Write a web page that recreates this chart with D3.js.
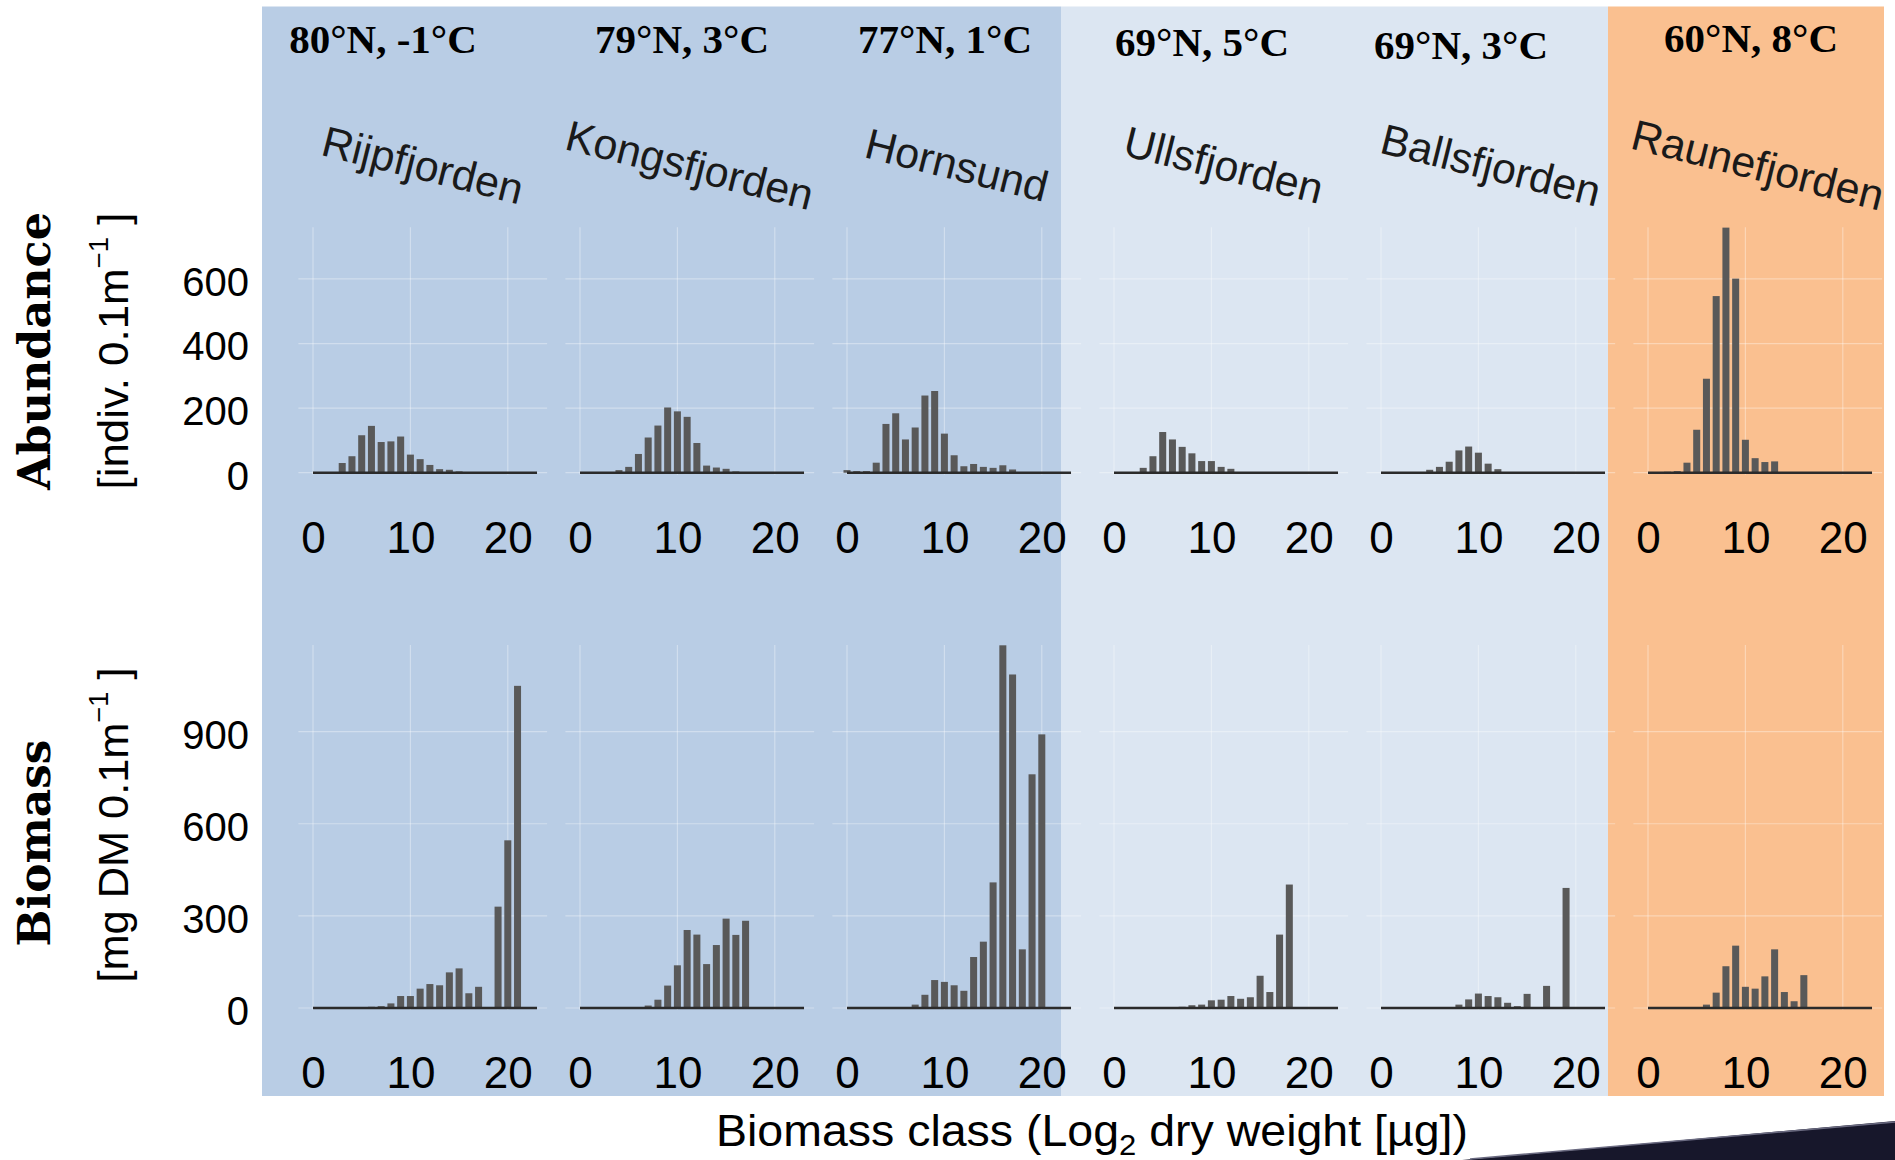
<!DOCTYPE html>
<html>
<head>
<meta charset="utf-8">
<script src="https://cdn.jsdelivr.net/npm/d3@7"></script>
<style>
  body { margin: 0; background: #fff; }
  text { font-family: "Liberation Sans", Arial, sans-serif; }
</style>
</head>
<body>
<svg id="chart" width="1895" height="1160"></svg>
<script>
// ---- data ----
const fjordNames = ["Rijpfjorden", "Kongsfjorden", "Hornsund", "Ullsfjorden", "Ballsfjorden", "Raunefjorden"];
const siteHeaders = ["80°N, -1°C", "79°N, 3°C", "77°N, 1°C", "69°N, 5°C", "69°N, 3°C", "60°N, 8°C"];
const sizeClasses = [0, 1, 2, 3, 4, 5, 6, 7, 8, 9, 10, 11, 12, 13, 14, 15, 16, 17, 18, 19, 20, 21, 22, 23];
const xTicks = [0, 10, 20];
const abundanceTicks = [0, 200, 400, 600];
const biomassTicks = [0, 300, 600, 900];

// abundance [indiv. 0.1m^-1] per size class 0..23
const abundRijp  = [0, 0, 0, 30, 51, 116, 145, 95, 97, 112, 56, 42, 24, 11, 9, 4, 0, 0, 0, 0, 0, 0, 0, 0];
const abundKongs = [0, 0, 0, 0, 8, 18, 58, 109, 146, 202, 190, 173, 92, 22, 16, 12, 4, 0, 0, 0, 0, 0, 0, 0];
const abundHorn  = [8, 5, 5, 31, 151, 184, 103, 140, 239, 253, 121, 54, 20, 27, 18, 15, 23, 10, 0, 0, 0, 0, 0, 0];
const abundUlls  = [0, 0, 0, 15, 51, 126, 103, 80, 60, 36, 36, 18, 12, 0, 0, 0, 0, 0, 0, 0, 0, 0, 0, 0];
const abundBalls = [0, 0, 0, 0, 0, 9, 18, 34, 69, 81, 62, 28, 11, 0, 0, 0, 0, 0, 0, 0, 0, 0, 0, 0];
const abundRaune = [0, 0, 3, 5, 31, 133, 291, 547, 759, 601, 102, 45, 33, 35, 0, 0, 0, 0, 0, 0, 0, 0, 0, 0];

// biomass [mg DM 0.1m^-1] per size class 0..23
const biomRijp  = [0, 0, 0, 0, 0, 0, 4, 6, 15, 39, 39, 63, 78, 74, 116, 129, 48, 69, 0, 330, 546, 1049, 0, 0];
const biomKongs = [0, 0, 0, 0, 0, 0, 0, 8, 27, 73, 139, 254, 239, 143, 205, 291, 238, 284, 0, 0, 0, 0, 0, 0];
const biomHorn  = [0, 0, 0, 0, 0, 0, 0, 11, 43, 91, 85, 74, 56, 166, 216, 409, 1181, 1086, 191, 761, 891, 0, 0, 0];
const biomUlls  = [0, 0, 0, 0, 0, 0, 0, 4, 9, 11, 25, 27, 39, 30, 35, 105, 52, 239, 402, 0, 0, 0, 0, 0];
const biomBalls = [0, 0, 0, 0, 0, 0, 0, 0, 11, 28, 47, 39, 35, 17, 6, 46, 0, 72, 0, 391, 0, 0, 0, 0];
const biomRaune = [0, 0, 0, 0, 0, 0, 11, 50, 136, 203, 69, 63, 103, 191, 52, 22, 107, 0, 0, 0, 0, 0, 0, 0];

const abundanceSeries = [abundRijp, abundKongs, abundHorn, abundUlls, abundBalls, abundRaune];
const biomassSeries = [biomRijp, biomKongs, biomHorn, biomUlls, biomBalls, biomRaune];

// ---- layout ----
const svg = d3.select("#chart");
const panelX0 = 313, panelPitch = 267, unitPx = 9.74;
const xDomain = [-1.5, 24.04];
const barWidth = 0.72;
const lineEnd = 23;

const headerX = [383, 682, 945, 1202, 1461, 1751];
const headerY = [53, 53, 53, 56, 59, 52];

const bands = [
  {x0: 262, x1: 1061, fill: "#b9cde5"},
  {x0: 1061, x1: 1608, fill: "#dce6f2"},
  {x0: 1608, x1: 1884, fill: "#fac090"}
];

const rows = [
  {series: abundanceSeries, ticks: abundanceTicks, yMax: 760, yZero: 472.7, yTop: 227.3, tickY: 537},
  {series: biomassSeries, ticks: biomassTicks, yMax: 1182, yZero: 1008, yTop: 645, tickY: 1072}
];

// background bands
svg.selectAll("rect.band")
  .data(bands)
  .enter().append("rect")
  .attr("class", "band")
  .attr("x", d => d.x0)
  .attr("y", 6.5)
  .attr("width", d => d.x1 - d.x0)
  .attr("height", 1096 - 6.5)
  .attr("fill", d => d.fill);

// slide decoration bottom right
svg.append("path")
  .attr("d", "M1462,1160 L1895,1121 L1895,1160 Z")
  .attr("fill", "#17172b");
svg.append("path")
  .attr("d", "M1470,1159 L1895,1122")
  .attr("stroke", "#6a6a80").attr("stroke-width", 1.5).attr("fill", "none");

function xScaleFor(i) {
  const x0 = panelX0 + panelPitch * i;
  return d3.scaleLinear().domain(xDomain).range([x0 + xDomain[0] * unitPx, x0 + xDomain[1] * unitPx]);
}

rows.forEach(function (row) {
  const y = d3.scaleLinear().domain([0, row.yMax]).range([row.yZero, row.yTop]);

  fjordNames.forEach(function (name, i) {
    const x = xScaleFor(i);
    const g = svg.append("g").attr("class", "panel");

    // grid
    g.selectAll("line.hgrid")
      .data(row.ticks)
      .enter().append("line")
      .attr("x1", x(xDomain[0])).attr("x2", x(xDomain[1]))
      .attr("y1", d => y(d)).attr("y2", d => y(d))
      .attr("stroke", "#fff").attr("stroke-opacity", 0.35).attr("stroke-width", 1.2);

    g.selectAll("line.vgrid")
      .data(xTicks)
      .enter().append("line")
      .attr("x1", d => x(d)).attr("x2", d => x(d))
      .attr("y1", y(row.yMax)).attr("y2", y(0) + 2)
      .attr("stroke", "#fff").attr("stroke-opacity", 0.35).attr("stroke-width", 1.2);

    // bars
    const vals = row.series[i];
    g.selectAll("rect.bar")
      .data(sizeClasses.filter(c => vals[c] > 0))
      .enter().append("rect")
      .attr("class", "bar")
      .attr("x", c => x(c - barWidth / 2))
      .attr("width", x(barWidth) - x(0))
      .attr("y", c => y(vals[c]))
      .attr("height", c => y(0) - y(vals[c]))
      .attr("fill", "#595959");

    // zero line
    g.append("line")
      .attr("x1", x(0)).attr("x2", x(lineEnd))
      .attr("y1", y(0)).attr("y2", y(0))
      .attr("stroke", "#2b2b2b").attr("stroke-width", 2.4);

    // x axis labels
    const ax = g.append("g")
      .attr("transform", "translate(0," + row.tickY + ")")
      .call(d3.axisBottom(x).tickValues(xTicks).tickSize(0).tickPadding(0));
    ax.select(".domain").remove();
    ax.selectAll("text")
      .attr("dy", "0.36em")
      .attr("font-family", "'Liberation Sans', Arial, sans-serif")
      .attr("font-size", 44)
      .attr("fill", "#000");
  });

  // y axis labels (left only)
  const ay = svg.append("g")
    .attr("transform", "translate(249,2)")
    .call(d3.axisLeft(y).tickValues(row.ticks).tickSize(0).tickPadding(0));
  ay.select(".domain").remove();
  ay.selectAll("text")
    .attr("dy", "0.36em")
    .attr("font-family", "'DejaVu Sans', sans-serif")
    .attr("font-size", 40)
    .attr("fill", "#000");
});

// site headers
svg.selectAll("text.header")
  .data(siteHeaders)
  .enter().append("text")
  .attr("class", "header")
  .attr("x", (d, i) => headerX[i])
  .attr("y", (d, i) => headerY[i])
  .attr("text-anchor", "middle")
  .style("font-family", "'Liberation Serif', 'Times New Roman', serif")
  .style("font-weight", "bold")
  .style("font-size", "41px")
  .attr("fill", "#000")
  .text(d => d);

// fjord names, tilted
svg.selectAll("text.fjord")
  .data(fjordNames)
  .enter().append("text")
  .attr("class", "fjord")
  .attr("transform", (d, i) => {
    const x = xScaleFor(i);
    return "translate(" + x((xDomain[0] + xDomain[1]) / 2) + ",165) rotate(14)";
  })
  .attr("text-anchor", "middle")
  .attr("dominant-baseline", "central")
  .attr("font-size", 43)
  .attr("fill", "#1a1a1a")
  .text(d => d);

// row titles
function rowTitle(label, unitMain, cy, boldLen, unitLen) {
  svg.append("text")
    .attr("transform", "translate(50," + cy.title + ") rotate(-90)")
    .attr("text-anchor", "middle")
    .style("font-family", "'DejaVu Serif', serif")
    .style("font-weight", "bold")
    .style("font-size", "45px")
    .attr("textLength", boldLen)
    .attr("lengthAdjust", "spacingAndGlyphs")
    .text(label);

  const t = svg.append("text")
    .attr("transform", "translate(128," + cy.unit + ") rotate(-90)")
    .attr("text-anchor", "middle")
    .attr("font-size", 43)
    .attr("textLength", unitLen)
    .attr("lengthAdjust", "spacingAndGlyphs");
  t.append("tspan").text(unitMain);
  t.append("tspan").attr("font-size", 27).attr("dy", -20).text("\u22121");
  t.append("tspan").attr("dy", 20).text(" ]");
}
rowTitle("Abundance", "[indiv. 0.1m", {title: 351, unit: 351}, 278, 277);
rowTitle("Biomass", "[mg DM 0.1m", {title: 843, unit: 825}, 207, 315);

// x axis title
const xt = svg.append("text")
  .attr("x", 1092)
  .attr("y", 1146)
  .attr("text-anchor", "middle")
  .attr("font-size", 45)
  .attr("textLength", 752)
  .attr("lengthAdjust", "spacingAndGlyphs")
  .attr("fill", "#000");
xt.append("tspan").text("Biomass class (Log");
xt.append("tspan").attr("font-size", 30).attr("dy", 9).text("2");
xt.append("tspan").attr("dy", -9).text(" dry weight [µg])");
</script>
</body>
</html>
